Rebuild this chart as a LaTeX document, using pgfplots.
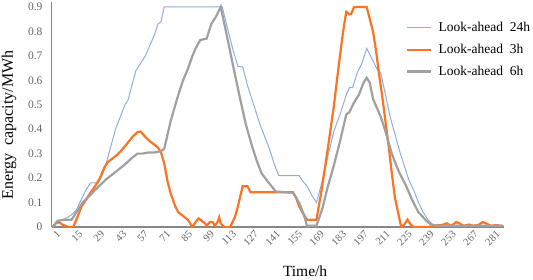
\documentclass[border=0pt]{standalone}
\usepackage{fontspec}
\setmainfont{Liberation Serif}
\usepackage{pgfplots}
\pgfplotsset{compat=1.18}
\definecolor{cblue}{RGB}{143,172,220}
\definecolor{corange}{RGB}{252,115,35}
\definecolor{cgray}{RGB}{160,160,160}
\definecolor{ticktext}{RGB}{100,100,100}
\definecolor{axgray}{RGB}{135,135,135}
\begin{document}
\begin{tikzpicture}
\useasboundingbox (-52pt,-52pt) rectangle (481pt,227pt);
\begin{axis}[
  at={(0pt,0pt)}, anchor=south west,
  scale only axis, width=452pt, height=225pt,
  xmin=0.5, xmax=288.5, ymin=0, ymax=0.92,
  axis lines=left,
  axis line style={-},
  x axis line style={draw=axgray, line width=1.6pt},
  y axis line style={draw=axgray, line width=1pt},
  major tick length=0pt,
  xtick={1,15,29,43,57,71,85,99,113,127,141,155,169,183,197,211,225,239,253,267,281},
  ytick={0,0.1,0.2,0.3,0.4,0.5,0.6,0.7,0.8,0.9},
  yticklabels={0,0.1,0.2,0.3,0.4,0.5,0.6,0.7,0.8,0.9},
  /pgf/number format/assume math mode=true,
  tick label style={font=\fontsize{11.5}{13}\selectfont, text=ticktext},
  yticklabel style={xshift=-6pt},
  xticklabel style={font=\fontsize{10.5}{12}\selectfont, rotate=45, anchor=east, inner sep=0.5pt, yshift=-8pt, xshift=1pt},
  xlabel={Time/h},
  xlabel style={at={(axis description cs:0.56,-0.196)}, anchor=center, font=\fontsize{15.5}{18}\selectfont},
  ylabel={Energy\ \ capacity/MWh},
  ylabel style={at={(axis description cs:-0.095,0.453)}, anchor=center, font=\fontsize{16}{19}\selectfont},
  legend style={at={(rel axis cs:0.775,0.928)}, anchor=north west, draw=none, fill=none,
    font=\fontsize{13.5}{16}\selectfont, row sep=7pt},
  legend cell align=left,
  legend image code/.code={\draw[#1,mark repeat=2,mark phase=2] plot coordinates {(0pt,0pt) (12pt,0pt) (24pt,0pt)};\path (29pt,0pt);},
]
\addplot[cblue, line width=1pt] coordinates {
(1,0.005) (4,0.025) (8,0.03) (13,0.05) (16,0.07) (19,0.11) (22,0.15) (25,0.18) (30,0.18) (33,0.22) (35,0.26) (38,0.33) (41,0.40) (44,0.45) (47,0.50) (49,0.52) (51,0.57) (54,0.64) (56,0.66) (58,0.68) (60,0.70) (62,0.73) (64,0.76) (66,0.79) (68,0.83) (70,0.84) (72,0.90) (109,0.90) (112,0.82) (116,0.72) (119,0.656) (122,0.655) (125,0.58) (127,0.54) (130,0.48) (133,0.42) (136,0.37) (139,0.32) (142,0.26) (145,0.21) (158,0.21) (160,0.19) (163,0.167) (166,0.13) (169,0.10) (172,0.17) (176,0.28) (180,0.39) (184,0.46) (188,0.54) (190,0.57) (192,0.57) (195,0.63) (198,0.67) (201,0.73) (205,0.68) (208,0.64) (210,0.63) (213,0.54) (216,0.45) (219,0.38) (222,0.31) (225,0.25) (228,0.19) (231,0.15) (234,0.10) (237,0.06) (240,0.03) (243,0.01) (250,0.005) (288,0.005)
};
\addlegendentry{Look-ahead\ \ 24h}
\addplot[corange, line width=2.2pt] coordinates {
(1,0) (3,0.015) (5,0.02) (7,0.01) (9,0.005) (11,0) (14,0) (16,0.03) (19,0.08) (22,0.11) (25,0.14) (28,0.167) (31,0.20) (34,0.245) (36,0.265) (39,0.28) (42,0.295) (45,0.315) (49,0.346) (52,0.37) (55,0.388) (57,0.39) (59,0.375) (62,0.355) (65,0.34) (68,0.325) (70,0.305) (72,0.26) (74,0.19) (76,0.14) (79,0.085) (81,0.06) (84,0.045) (87,0.03) (89,0.01) (90,0) (92,0.02) (94,0.035) (96,0.025) (98,0.015) (99,0.005) (101,0.02) (103,0.02) (104,0.005) (106,0.02) (107,0.04) (108,0.015) (110,0) (114,0) (117,0.04) (119,0.085) (121,0.14) (122,0.167) (125,0.167) (127,0.142) (154,0.142) (156,0.12) (158,0.085) (160,0.06) (163,0.03) (169,0.03) (172,0.14) (176,0.31) (180,0.49) (183,0.65) (186,0.80) (188,0.88) (190,0.87) (191,0.87) (193,0.90) (201,0.90) (203,0.85) (205,0.80) (207,0.72) (209,0.62) (211,0.53) (213,0.43) (215,0.33) (217,0.22) (219,0.12) (221,0.06) (223,0) (225,0.01) (227,0.03) (229,0.01) (231,0) (240,0) (245,0.005) (250,0.01) (252,0.015) (255,0.005) (258,0.02) (260,0.015) (263,0.005) (266,0.01) (269,0.005) (272,0.008) (275,0.02) (277,0.015) (280,0.005) (284,0.008) (288,0.003)
};
\addlegendentry{Look-ahead\ \ 3h}
\addplot[cgray, line width=2.2pt] coordinates {
(1,0) (4,0.025) (8,0.03) (13,0.03) (15,0.05) (17,0.07) (20,0.10) (24,0.125) (27,0.145) (31,0.17) (35,0.195) (39,0.215) (43,0.235) (47,0.256) (51,0.28) (55,0.30) (58,0.30) (62,0.305) (66,0.305) (70,0.31) (72,0.32) (76,0.43) (80,0.52) (84,0.60) (87,0.645) (90,0.70) (92,0.73) (95,0.765) (99,0.77) (102,0.83) (105,0.86) (108,0.90) (112,0.78) (116,0.656) (120,0.535) (124,0.42) (128,0.33) (131,0.27) (134,0.22) (137,0.194) (140,0.17) (143,0.145) (154,0.14) (156,0.12) (158,0.098) (161,0.05) (163,0.005) (169,0.005) (173,0.08) (176,0.16) (180,0.25) (184,0.35) (188,0.46) (190,0.47) (193,0.51) (196,0.54) (199,0.59) (201,0.61) (203,0.59) (205,0.525) (208,0.48) (210,0.45) (213,0.39) (217,0.30) (220,0.25) (222,0.22) (226,0.17) (230,0.11) (234,0.06) (237,0.04) (239,0.025) (242,0.01) (246,0.005) (288,0.005)
};
\addlegendentry{Look-ahead\ \ 6h}
\end{axis}
\end{tikzpicture}
\end{document}
